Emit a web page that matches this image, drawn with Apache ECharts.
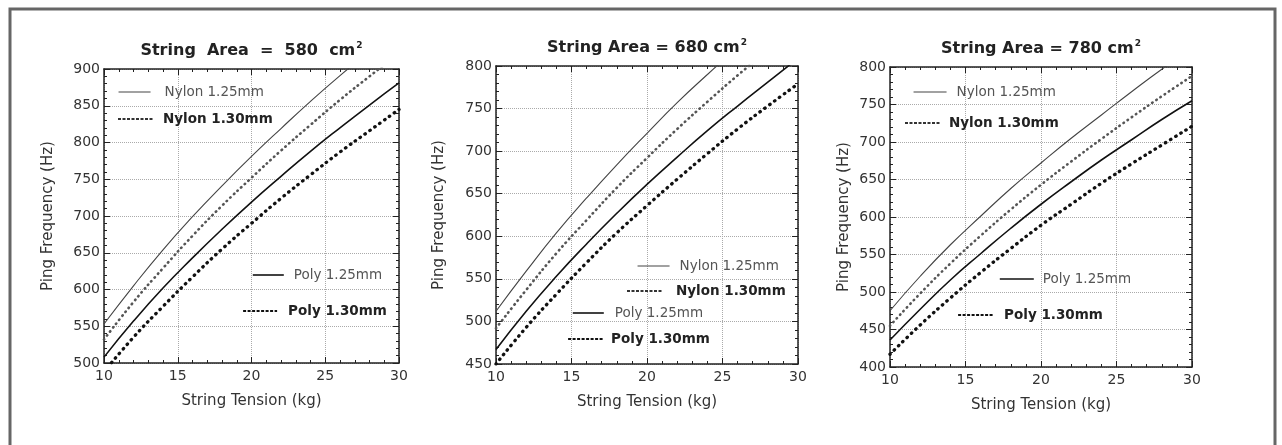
<!DOCTYPE html>
<html>
<head>
<meta charset="utf-8">
<script src="https://cdn.jsdelivr.net/npm/echarts@6/dist/echarts.min.js"></script>
<style>
  html, body { margin: 0; padding: 0; background: #fff; }
  #main { width: 1282px; height: 445px; }
</style>
</head>
<body>
<div id="main"></div>
<script>
// string tension (kg)
const tension = [10, 12, 14, 16, 18, 20, 22, 24, 26, 28, 30]
const areas = [580, 680, 780] // cm^2
const seriesNames = ['Nylon 1.25mm', 'Nylon 1.30mm', 'Poly 1.25mm', 'Poly 1.30mm']

// ping frequency (Hz)
const nylon125 = [
  [553, 605, 654, 699, 741, 781, 819, 856, 891, 924, 956],
  [512, 559, 604, 645, 684, 721, 757, 790, 822, 853, 883],
  [475, 521, 563, 601, 638, 672, 705, 736, 767, 797, 825]
]
const nylon130 = [
  [532, 583, 629, 673, 714, 752, 789, 824, 858, 890, 921],
  [492, 537, 580, 619, 657, 692, 726, 758, 789, 818, 847],
  [455, 498, 538, 575, 610, 643, 674, 704, 733, 761, 788]
]
const poly125 = [
  [508, 557, 602, 643, 682, 719, 754, 788, 820, 851, 881],
  [467, 512, 553, 591, 627, 661, 693, 724, 753, 781, 809],
  [436, 477, 516, 551, 585, 617, 647, 676, 703, 730, 755]
]
const poly130 = [
  [488, 535, 577, 617, 655, 690, 724, 756, 787, 816, 845],
  [450, 493, 532, 569, 604, 636, 667, 697, 726, 753, 779],
  [417, 456, 492, 526, 558, 589, 617, 645, 671, 696, 721]
]
const yMin = [500, 450, 400]
const yMax = [900, 800, 800]

const FONT = "'DejaVu Sans', 'Liberation Sans', Arial, sans-serif"

// layout of the three panels (pixels)
const grids = [
  {left: 104, top: 69, width: 295, height: 294},
  {left: 496, top: 66, width: 302, height: 298},
  {left: 890, top: 67, width: 302, height: 300}
]
const yNameGap = [48, 49, 38]
const titleTop = [41, 38, 39]

// legend positions: [lineStart, lineEnd, textStart, centerY] per item
const legendPos = [
  [[118, 150, 164, 92], [117, 153, 162, 119], [252, 283, 293, 275], [242, 276, 287, 311]],
  [[637, 669, 679, 266], [626, 662, 675, 291], [572, 603, 614, 313], [567, 602, 610, 339]],
  [[913, 946, 956, 92], [904, 939, 948, 123], [999, 1033, 1042, 279], [957, 993, 1003, 315]]
]

const styles = [
  {color: '#444', width: 1.1, type: 'solid'},
  {color: '#555', width: 2.6, type: [0.5, 4.5], cap: 'round'},
  {color: '#111', width: 1.6, type: 'solid'},
  {color: '#111', width: 3.3, type: [0.5, 5.5], cap: 'round'}
]
// the legend samples of the dotted lines are short dashes
const legendLine = [
  {color: '#444', width: 1.1, type: 'solid'},
  {color: '#333', width: 2, type: [3, 1.5], cap: 'butt'},
  {color: '#111', width: 1.6, type: 'solid'},
  {color: '#111', width: 2.2, type: [3, 1.5], cap: 'butt'}
]
const legendBold = [false, true, false, true]

const chart = echarts.init(document.getElementById('main'))

const title = []
const xAxis = []
const yAxis = []
const series = []
const legend = []

areas.forEach((area, p) => {
  const g = grids[p]
  const txt = p === 0 ? 'String  Area  =  ' + area + '  cm{s|2}' : 'String Area = ' + area + ' cm{s|2}'
  title.push({
    text: txt,
    left: g.left + g.width / 2,
    top: titleTop[p],
    padding: 0,
    textAlign: 'center',
    textStyle: {
      fontFamily: FONT, fontSize: 16, fontWeight: 'bold', color: '#222',
      rich: {s: {fontFamily: FONT, fontSize: 9, fontWeight: 'bold', color: '#222', padding: [0, 0, 10, 1]}}
    }
  })
  const tickStyle = {show: true, inside: true, length: 6, lineStyle: {color: '#222', width: 1}}
  const minorStyle = {show: true, splitNumber: 5, length: 3, lineStyle: {color: '#222', width: 1}}
  xAxis.push({
    type: 'value', gridIndex: p, min: 10, max: 30, interval: 5,
    name: 'String Tension (kg)', nameLocation: 'middle', nameGap: 31,
    nameTextStyle: {fontFamily: FONT, fontSize: 15, color: '#333'},
    axisLine: {lineStyle: {color: '#222', width: 1.5}},
    axisTick: tickStyle, minorTick: minorStyle,
    axisLabel: {fontFamily: FONT, fontSize: 14, color: '#333', margin: 6},
    splitLine: {show: true, lineStyle: {color: '#aaa', type: 'dotted', width: 1}}
  })
  xAxis.push({
    type: 'value', gridIndex: p, min: 10, max: 30, interval: 5, position: 'top',
    axisLine: {lineStyle: {color: '#222', width: 1.5}},
    axisTick: tickStyle, minorTick: minorStyle,
    axisLabel: {show: false}, splitLine: {show: false}
  })
  yAxis.push({
    type: 'value', gridIndex: p, min: yMin[p], max: yMax[p], interval: 50,
    name: 'Ping Frequency (Hz)', nameLocation: 'middle', nameGap: yNameGap[p],
    nameTextStyle: {fontFamily: FONT, fontSize: 15, color: '#333'},
    axisLine: {show: true, lineStyle: {color: '#222', width: 1.5}},
    axisTick: tickStyle, minorTick: minorStyle,
    axisLabel: {fontFamily: FONT, fontSize: 14, color: '#333', margin: 4},
    splitLine: {show: true, lineStyle: {color: '#aaa', type: 'dotted', width: 1}}
  })
  yAxis.push({
    type: 'value', gridIndex: p, min: yMin[p], max: yMax[p], interval: 50, position: 'right',
    axisLine: {show: true, lineStyle: {color: '#222', width: 1.5}},
    axisTick: tickStyle, minorTick: minorStyle,
    axisLabel: {show: false}, splitLine: {show: false}
  })

  const sets = [nylon125[p], nylon130[p], poly125[p], poly130[p]]
  sets.forEach((vals, i) => {
    const st = styles[i]
    series.push({
      name: seriesNames[i],
      type: 'line',
      xAxisIndex: p * 2,
      yAxisIndex: p * 2,
      data: tension.map((t, k) => [t, vals[k]]),
      smooth: true,
      symbol: 'none',
      clip: true,
      silent: true,
      animation: false,
      color: st.color,
      lineStyle: {color: st.color, width: st.width, type: st.type, cap: st.cap || 'butt'}
    })
    const lp = legendPos[p][i]
    legend.push({
      left: lp[0],
      top: lp[3] - 7,
      padding: 0,
      itemWidth: lp[1] - lp[0],
      itemHeight: 14,
      selectedMode: false,
      itemStyle: {opacity: 0},
      lineStyle: legendLine[i],
      data: [{
        name: seriesNames[i],
        textStyle: {
          fontFamily: FONT, fontSize: 13.5,
          fontWeight: legendBold[i] ? 'bold' : 'normal',
          color: legendBold[i] ? '#222' : '#555',
          padding: [0, 0, 0, Math.max(0, lp[2] - lp[1] - 5)]
        }
      }]
    })
  })
})

chart.setOption({
  backgroundColor: '#fff',
  animation: false,
  title: title,
  grid: grids,
  xAxis: xAxis,
  yAxis: yAxis,
  legend: legend,
  series: series,
  graphic: [{
    type: 'rect',
    shape: {x: 10, y: 9, width: 1265, height: 460},
    style: {fill: 'none', stroke: '#666', lineWidth: 3},
    silent: true
  }]
})
</script>
</body>
</html>
